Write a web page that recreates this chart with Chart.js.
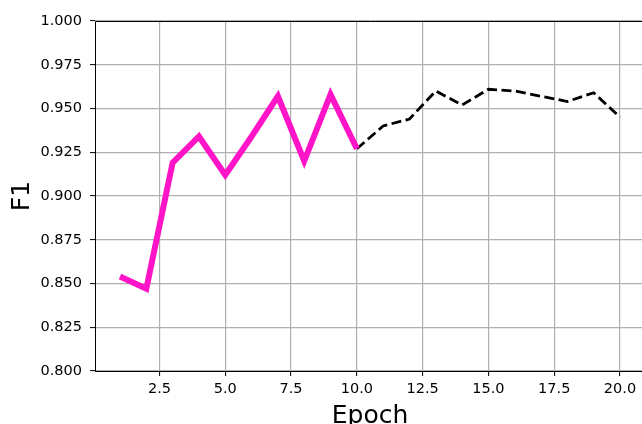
<!DOCTYPE html>
<html>
<head>
<meta charset="utf-8">
<script src="https://cdn.jsdelivr.net/npm/chart.js@4.4.0/dist/chart.umd.min.js"></script>
<style>
  html, body { margin: 0; padding: 0; background: #fff; overflow: hidden; }
  #wrap { width: 642px; height: 424px; overflow: hidden; position: relative; }
  #wrap canvas { position: absolute; left: 0; top: 0; }
</style>
</head>
<body>
<div id="wrap"><canvas id="myChart" width="646" height="424"></canvas></div>
<script>
// epochs and F1 scores
const trainEpochs = [1, 2, 3, 4, 5, 6, 7, 8, 9, 10];
const trainF1 = [0.854, 0.847, 0.919, 0.934, 0.912, 0.934, 0.957, 0.920, 0.958, 0.927];
const laterEpochs = [10, 11, 12, 13, 14, 15, 16, 17, 18, 19, 20];
const laterF1 = [0.927, 0.940, 0.944, 0.960, 0.952, 0.961, 0.960, 0.957, 0.954, 0.959, 0.945];
const xTicks = [2.5, 5.0, 7.5, 10.0, 12.5, 15.0, 17.5, 20.0];
const yTicks = [0.800, 0.825, 0.850, 0.875, 0.900, 0.925, 0.950, 0.975, 1.000];

function toPoints(xs, ys) {
    return xs.map(function (x, i) { return { x: x, y: ys[i] }; });
}

// matplotlib-like frame: left, top, bottom spines
const framePlugin = {
    id: 'frame',
    afterDraw: function (chart) {
        const a = chart.chartArea;
        const c = chart.ctx;
        c.save();
        c.strokeStyle = '#000';
        c.lineWidth = 1;
        c.beginPath();
        c.moveTo(a.left + 0.5, a.bottom);
        c.lineTo(a.left + 0.5, a.top + 0.5);
        c.lineTo(a.right, a.top + 0.5);
        c.moveTo(a.left, a.bottom + 0.5);
        c.lineTo(a.right, a.bottom + 0.5);
        c.stroke();
        c.restore();
    }
};

Chart.defaults.font.family = 'DejaVu Sans';
Chart.defaults.color = '#000';

var ctx = document.getElementById('myChart').getContext('2d');
var chart = new Chart(ctx, {
    type: 'line',
    data: {
        datasets: [{
            data: toPoints(trainEpochs, trainF1),
            borderColor: '#ff14c8',
            borderWidth: 6,
            pointRadius: 0,
            tension: 0,
            borderJoinStyle: 'miter',
            borderCapStyle: 'butt'
        }, {
            data: toPoints(laterEpochs, laterF1),
            borderColor: '#000',
            borderWidth: 2.8,
            borderDash: [10, 4.5],
            pointRadius: 0,
            tension: 0,
            borderCapStyle: 'butt'
        }]
    },
    options: {
        responsive: false,
        animation: false,
        events: [],
        layout: { padding: { top: 21, left: 0, right: 1, bottom: 0 } },
        plugins: { legend: { display: false }, tooltip: { enabled: false } },
        scales: {
            x: {
                type: 'linear',
                min: 0.05,
                max: 20.95,
                afterBuildTicks: function (s) { s.ticks = xTicks.map(function (v) { return { value: v }; }); },
                afterFit: function (s) { s.height = 53; },
                ticks: {
                    font: { size: 14.5 },
                    padding: 5,
                    maxRotation: 0,
                    autoSkip: false,
                    callback: function (v) { return v.toFixed(1); }
                },
                grid: { color: '#b0b0b0', lineWidth: 1.2, tickColor: '#000', tickLength: 5, tickWidth: 1 },
                border: { display: false },
                title: { display: true, text: 'Epoch', font: { size: 25, lineHeight: 0.6 }, padding: 0 }
            },
            y: {
                min: 0.8,
                max: 1.0,
                afterBuildTicks: function (s) { s.ticks = yTicks.map(function (v) { return { value: v }; }); },
                afterFit: function (s) { s.width = 95; },
                ticks: {
                    font: { size: 14.5 },
                    padding: 8,
                    autoSkip: false,
                    callback: function (v) { return v.toFixed(3); }
                },
                grid: { color: '#b0b0b0', lineWidth: 1.2, tickColor: '#000', tickLength: 5, tickWidth: 1 },
                border: { display: false },
                title: { display: true, text: 'F1', font: { size: 25, lineHeight: 1 }, padding: { top: 10, bottom: 0 } }
            }
        }
    },
    plugins: [framePlugin]
});
</script>
</body>
</html>
